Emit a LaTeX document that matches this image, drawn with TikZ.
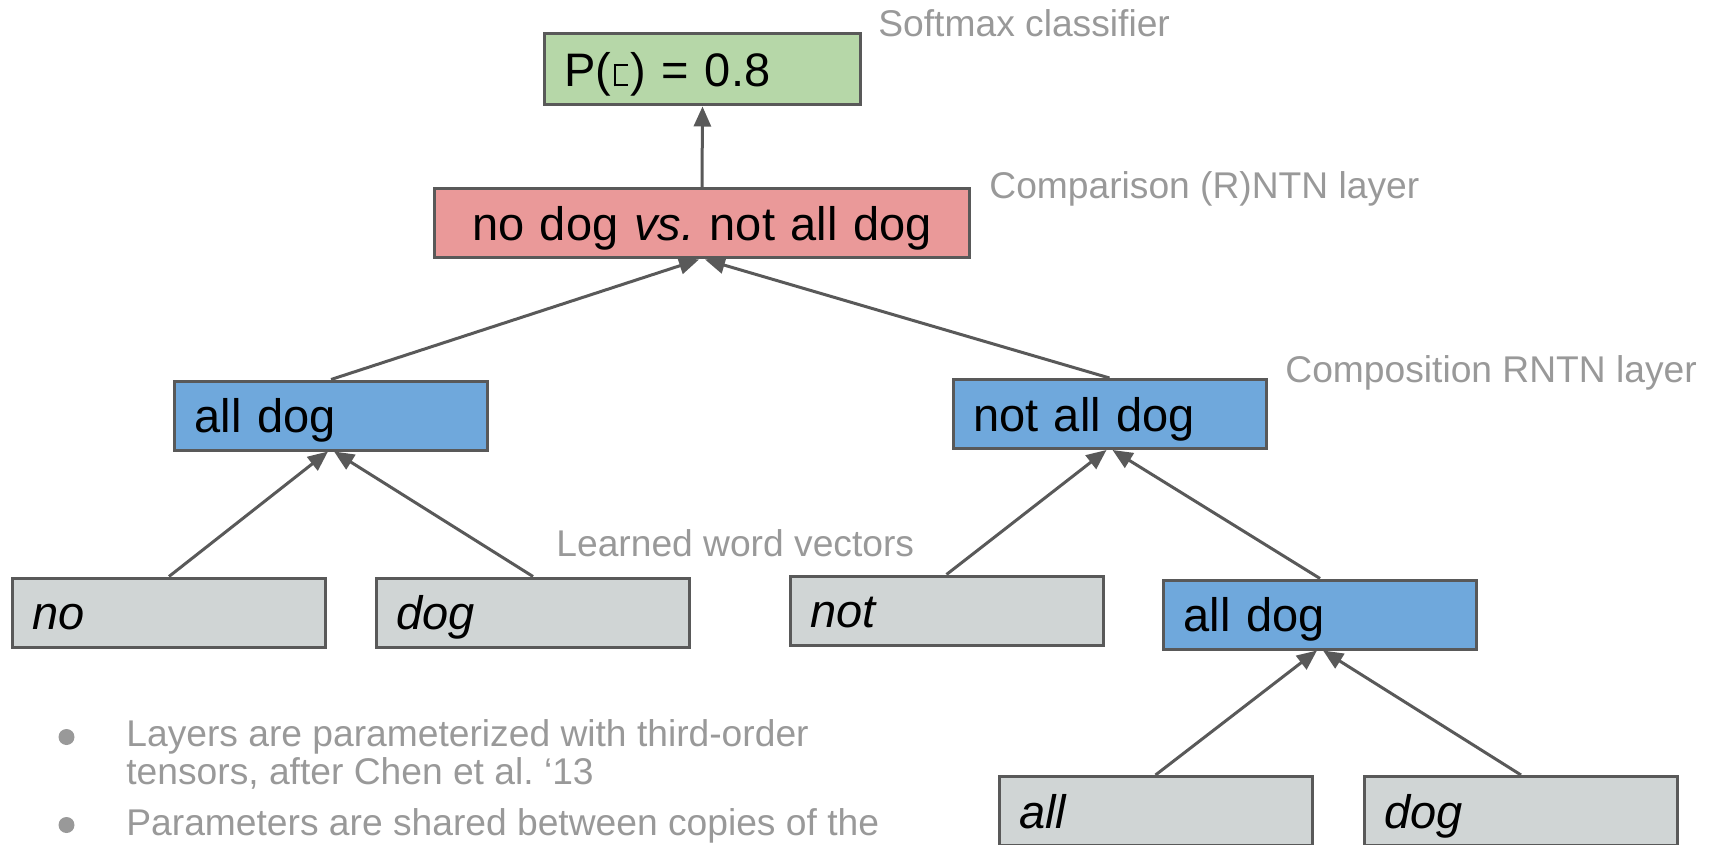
\documentclass[tikz,border=0pt]{standalone}
\usepackage{fontspec}
\setmainfont{Liberation Sans}
\usetikzlibrary{arrows.meta}

\definecolor{edgegray}{HTML}{595959}
\definecolor{notegray}{HTML}{999999}
\definecolor{softgreen}{HTML}{B6D7A8}
\definecolor{softred}{HTML}{EA9999}
\definecolor{softblue}{HTML}{6FA8DC}
\definecolor{wordgray}{HTML}{D0D5D5}

\newcommand{\boxfont}{\fontsize{23.5}{28}\selectfont}
\newcommand{\notefont}{\fontsize{18.6}{20}\selectfont}
% small open box glyph used in the classifier label
\newcommand{\openbox}{\kern1pt\rule{1pt}{11pt}\kern-1pt\rule{7pt}{1pt}\kern-7pt\raisebox{10pt}{\rule{7pt}{1pt}}\kern1.5pt}

\begin{document}
\frenchspacing
\begin{tikzpicture}[x=0.5pt,y=-0.5pt,
  cell/.style={draw=edgegray, line width=1.5pt, minimum height=34.5pt,
               inner xsep=10pt, inner ysep=0pt, text width=136.5pt,
               text height=20pt, text depth=3pt,
               align=left, font=\boxfont},
  vec/.style={cell, fill=wordgray, font=\boxfont\itshape},
  comp/.style={cell, fill=softblue},
  link/.style={draw=edgegray, line width=1.5pt,
               -{Triangle[length=10pt,width=8.5pt]}},
  note/.style={text=notegray, font=\notefont, inner sep=0pt, anchor=base west}]
\useasboundingbox (0,0) rectangle (1714,845);

% tree of boxes
\node[cell, fill=softgreen, text width=138pt, minimum height=35.5pt] (clf) at (702.5,69.5) {P(\openbox) = 0.8};
\node[cell, fill=softred, text width=267.5pt, inner xsep=0pt, align=center] (cmp) at (702,223.5) {no dog {\itshape vs.} not all dog};
\node[comp] (lft) at (331,415.5) {all dog};
\node[comp] (rgt) at (1109.5,414) {not all dog};
\node[vec] (w1) at (169,612.5) {no};
\node[vec] (w2) at (533,612.5) {dog};
\node[vec] (w3) at (946.5,610.5) {not};
\node[comp] (sub) at (1320,614.5) {all dog};
\node[vec] (w4) at (1155.5,811) {all};
\node[vec] (w5) at (1521,811) {dog};

% connectors
\draw[link] (cmp.north) -- (clf.south);
\draw[link] (lft.north) -- ([xshift=-1.5pt]cmp.south);
\draw[link] (rgt.north) -- ([xshift=1.5pt]cmp.south);
\draw[link] (w1.north) -- ([xshift=-1.5pt]lft.south);
\draw[link] (w2.north) -- ([xshift=1.5pt]lft.south);
\draw[link] (w3.north) -- ([xshift=-1.5pt]rgt.south);
\draw[link] (sub.north) -- ([xshift=1.5pt]rgt.south);
\draw[link] (w4.north) -- ([xshift=-1.5pt]sub.south);
\draw[link] (w5.north) -- ([xshift=1.5pt]sub.south);

% layer annotations
\node[note] (l1) at (878,37) {Softmax classifier};
\node[note] (l2) at (989,199) {Comparison (R)NTN layer};
\node[note] (l3) at (1285,382) {Composition RNTN layer};
\node[note] (l4) at (556,556) {Learned word vectors};

% bullet notes
\fill[notegray] (66.5,737) circle (8);
\fill[notegray] (66.5,825) circle (8);
\node[note] (b1a) at (126,746) {Layers are parameterized with third-order};
\node[note] (b1b) at (126,784) {tensors, after Chen et al. ‘13};
\node[note] (b2) at (126,835) {Parameters are shared between copies of the};
\end{tikzpicture}
\end{document}
